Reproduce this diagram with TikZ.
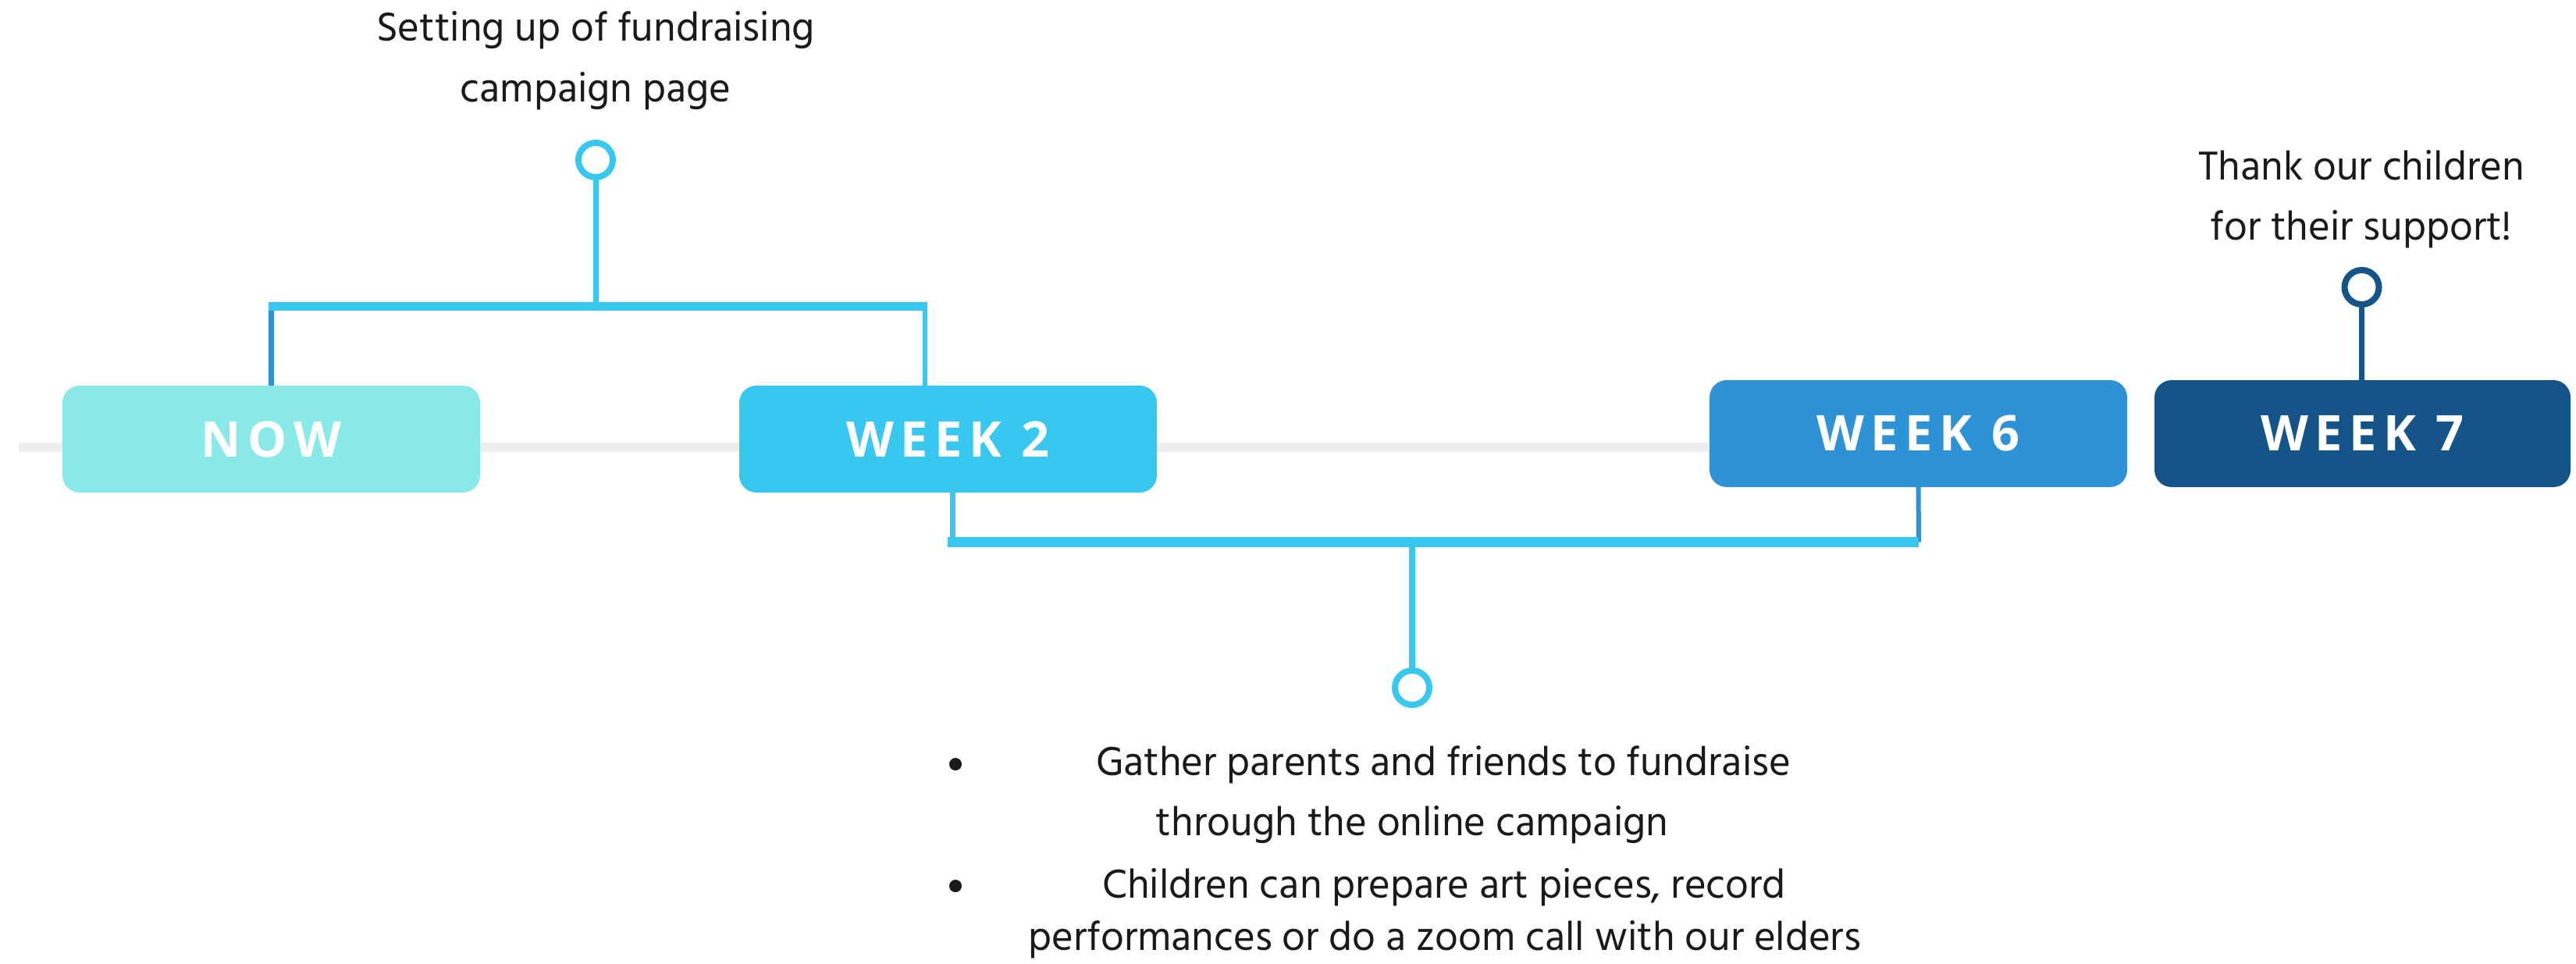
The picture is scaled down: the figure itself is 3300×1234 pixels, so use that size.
\documentclass[tikz,border=0pt]{standalone}
\usepackage{fontspec}
\setmainfont{Hind Madurai}
\newfontfamily\labelfont{Open Sans}[LetterSpace=14]
\definecolor{nowc}{HTML}{89E9E8}
\definecolor{wtwoc}{HTML}{38C8EF}
\definecolor{wsixc}{HTML}{2E92D6}
\definecolor{wsevc}{HTML}{155489}
\definecolor{grayline}{HTML}{EEEEEE}
\definecolor{textc}{HTML}{1A1A1A}
\tikzset{
  weekbox/.style={rounded corners=22pt, minimum width=535pt, minimum height=137pt, inner sep=0pt,
    text=white, font=\labelfont\bfseries\fontsize{63}{63}\selectfont},
  ring/.style={circle, draw=#1, line width=8pt, minimum size=44pt, inner sep=0pt, fill=white},
  stemline/.style={draw=#1, line width=7pt},
  barline/.style={draw=wtwoc, line width=11pt},
  txt/.style={anchor=base, text=textc, inner sep=0pt, font=\fontsize{53}{78}\selectfont},
  bulletdot/.style={circle, fill=textc, minimum size=16pt, inner sep=0pt}
}
\begin{document}
\begin{tikzpicture}[x=1pt,y=-1pt]
\useasboundingbox[fill=white] (0,0) rectangle (3300,1234);
% baseline
\coordinate (gl) at (24,573);
\coordinate (gr) at (2300,573);
\draw[grayline, line width=12pt] (gl) -- (gr);
% week boxes
\node[weekbox, fill=nowc]  (now)  at (347.5,562.5) {NOW};
\node[weekbox, fill=wtwoc] (wtwo) at (1214.5,562.5) {WEEK 2};
\node[weekbox, fill=wsixc] (wsix) at (2457.5,555.5) {WEEK 6};
\node[weekbox, fill=wsevc, minimum width=533pt] (wsev) at (3026.5,555.5) {WEEK 7};
% top bracket
\coordinate (tbl) at (347.5,392);
\coordinate (tbr) at (1185,392);
\node[ring=wtwoc] (ctop) at (763,205) {};
\draw[stemline=wsixc] (now.north) -- (tbl);
\draw[stemline=wtwoc, line width=6pt] (wtwo.north -| tbr) -- (tbr);
\draw[barline] ([xshift=-4pt]tbl) -- ([xshift=3pt]tbr);
\draw[stemline=wtwoc] (ctop.south) -- (ctop.south |- tbl);
% bottom bracket
\coordinate (bbl) at (1220,694.5);
\coordinate (bbr) at (2458,694.5);
\node[ring=wtwoc] (cbot) at (1809,881) {};
\draw[stemline=wtwoc] (wtwo.south -| bbl) -- (bbl);
\draw[stemline=wsixc, line width=6pt] (wsix.south) -- (bbr);
\draw[barline, line width=13pt] ([xshift=-6pt]bbl) -- (bbr);
\draw[stemline=wtwoc, line width=8pt] (cbot.north) -- (cbot.north |- bbl);
% week 7 pin
\node[ring=wsevc] (cend) at (3025.5,368) {};
\draw[stemline=wsevc] (cend.south) -- (wsev.north -| cend.south);
% texts
\node[txt] (t1a) at (763,52) {Setting up of fundraising};
\node[txt] (t1b) at (763,130) {campaign page};
\node[txt] (t7a) at (3025,230) {Thank our children};
\node[txt] (t7b) at (3025,307) {for their support!};
\node[bulletdot] (b1) at (1224,979) {};
\node[bulletdot] (b2) at (1224,1135) {};
\node[txt] (l1) at (1849,993) {Gather parents and friends to fundraise};
\node[txt] (l2) at (1809,1070) {through the online campaign};
\node[txt] (l3) at (1850,1150) {Children can prepare art pieces, record};
\node[txt] (l4) at (1851,1217) {performances or do a zoom call with our elders};
\end{tikzpicture}
\end{document}
